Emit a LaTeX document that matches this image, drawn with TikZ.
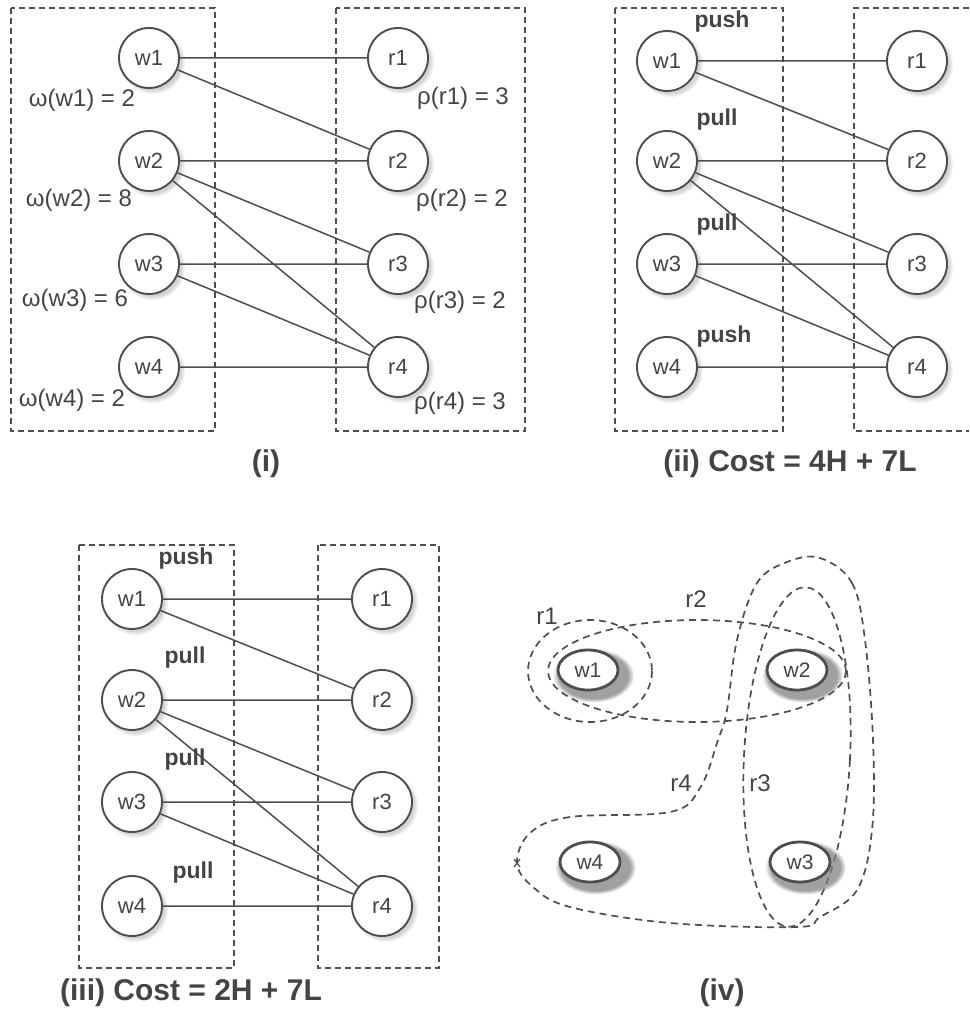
\documentclass[tikz,border=0pt]{standalone}
\usepackage{fontspec}
\setmainfont{Liberation Sans}
\usetikzlibrary{shapes.geometric, shadows, calc}
\definecolor{mydark}{RGB}{78,78,78}
\definecolor{mytext}{RGB}{68,68,68}
\tikzset{
  vnode/.style={circle, draw=mydark, fill=white, minimum size=60pt,
    inner sep=0pt, line width=1.9pt, text=mytext,
    font=\fontsize{22}{25}\selectfont,
    circular drop shadow={shadow xshift=3pt, shadow yshift=-3pt,
      shadow scale=1.1, opacity=0.35}},
  hnode/.style={ellipse, draw=mydark, fill=white, minimum width=60pt,
    minimum height=40pt, inner sep=0pt, line width=2.8pt, text=mytext,
    font=\fontsize{21}{24}\selectfont,
    circular drop shadow={shadow xshift=4pt, shadow yshift=-4pt,
      shadow scale=1.35, opacity=0.75}},
  link/.style={draw=mydark, line width=1.5pt},
  part/.style={draw=mydark, dash pattern=on 6pt off 4pt, line width=1.7pt},
  hedge/.style={draw=mydark, dash pattern=on 7pt off 5pt, line width=1.7pt},
  wlabel/.style={font=\fontsize{24}{28}\selectfont, text=mytext},
  mode/.style={font=\bfseries\fontsize{23}{27}\selectfont, text=mytext},
  caption/.style={font=\bfseries\fontsize{30}{34}\selectfont, text=mytext}
}

\begin{document}
\begin{tikzpicture}[x=1pt, y=-1pt]
  \useasboundingbox (0,0) rectangle (969,1019);
  % (i) weighted bipartite graph
  \draw[part] (11,8) rectangle (215,431);
  \draw[part] (336,8) rectangle (525,431);
  \node[vnode] (iw1) at (149,58) {w1};
  \node[vnode] (iw2) at (149,161) {w2};
  \node[vnode] (iw3) at (149,264) {w3};
  \node[vnode] (iw4) at (149,367) {w4};
  \node[vnode] (ir1) at (398,58) {r1};
  \node[vnode] (ir2) at (398,161) {r2};
  \node[vnode] (ir3) at (398,264) {r3};
  \node[vnode] (ir4) at (398,367) {r4};
  \draw[link] (iw1) -- (ir1) (iw1) -- (ir2) (iw2) -- (ir2) (iw2) -- (ir3)
              (iw2) -- (ir4) (iw3) -- (ir3) (iw3) -- (ir4) (iw4) -- (ir4);
  \node[wlabel] (iow1) at (82,100) {ω(w1) = 2};
  \node[wlabel] (iow2) at (79,200) {ω(w2) = 8};
  \node[wlabel] (iow3) at (75,300) {ω(w3) = 6};
  \node[wlabel] (iow4) at (72,400) {ω(w4) = 2};
  \node[wlabel] (irr1) at (463,98) {ρ(r1) = 3};
  \node[wlabel] (irr2) at (462,200) {ρ(r2) = 2};
  \node[wlabel] (irr3) at (460,302) {ρ(r3) = 2};
  \node[wlabel] (irr4) at (460,403) {ρ(r4) = 3};
  \node[caption] (capi) at (266,464) {(i)};

  % (ii) first assignment
  \draw[part] (615,8) rectangle (783,431);
  \draw[part] (969,8) -- (854,8) -- (854,431) -- (969,431);
  \node[vnode] (aw1) at (667,61) {w1};
  \node[vnode] (aw2) at (667,161) {w2};
  \node[vnode] (aw3) at (667,264) {w3};
  \node[vnode] (aw4) at (667,367) {w4};
  \node[vnode] (ar1) at (917,61) {r1};
  \node[vnode] (ar2) at (917,161) {r2};
  \node[vnode] (ar3) at (917,264) {r3};
  \node[vnode] (ar4) at (917,367) {r4};
  \draw[link] (aw1) -- (ar1) (aw1) -- (ar2) (aw2) -- (ar2) (aw2) -- (ar3)
              (aw2) -- (ar4) (aw3) -- (ar3) (aw3) -- (ar4) (aw4) -- (ar4);
  \node[mode] (am1) at (722,22) {push};
  \node[mode] (am2) at (717,120) {pull};
  \node[mode] (am3) at (717,225) {pull};
  \node[mode] (am4) at (724,337) {push};
  \node[caption] (capii) at (790,464) {(ii) Cost = 4H + 7L};

  % (iii) cheaper assignment
  \draw[part] (79,545) rectangle (234,968);
  \draw[part] (318,545) rectangle (439,968);
  \node[vnode] (bw1) at (132,599) {w1};
  \node[vnode] (bw2) at (132,700) {w2};
  \node[vnode] (bw3) at (132,802) {w3};
  \node[vnode] (bw4) at (132,906) {w4};
  \node[vnode] (br1) at (382,599) {r1};
  \node[vnode] (br2) at (382,700) {r2};
  \node[vnode] (br3) at (382,802) {r3};
  \node[vnode] (br4) at (382,906) {r4};
  \draw[link] (bw1) -- (br1) (bw1) -- (br2) (bw2) -- (br2) (bw2) -- (br3)
              (bw2) -- (br4) (bw3) -- (br3) (bw3) -- (br4) (bw4) -- (br4);
  \node[mode] (bm1) at (186,559) {push};
  \node[mode] (bm2) at (185,658) {pull};
  \node[mode] (bm3) at (185,760) {pull};
  \node[mode] (bm4) at (193,873) {pull};
  \node[caption] (capiii) at (191,993) {(iii) Cost = 2H + 7L};

  % (iv) hypergraph view
  \draw[hedge] (590,671) ellipse [x radius=62, y radius=51];
  \draw[hedge] (697,671) ellipse [x radius=149, y radius=51];
  \draw[hedge, rotate around={-3:(797,757)}] (797,757) ellipse [x radius=53, y radius=170];
  \draw[hedge] plot[smooth cycle, tension=0.6] coordinates {
    (820,558) (852,583) (865,640) (873,740) (872,830) (857,890) (820,917)
    (797,927) (670,923) (570,907) (533,887) (517,863) (530,833) (570,817)
    (670,812) (700,788) (718,740) (727,710) (737,640) (757,583) (787,562)};
  \draw[mydark, line width=1.2pt] (514,859) -- (520,867) (514,867) -- (520,859);
  \node[hnode] (hw1) at (588,670) {w1};
  \node[hnode] (hw2) at (797,670) {w2};
  \node[hnode] (hw4) at (590,862) {w4};
  \node[hnode] (hw3) at (800,862) {w3};
  \node[wlabel] (hr1) at (547,616) {r1};
  \node[wlabel] (hr2) at (696,599) {r2};
  \node[wlabel] (hr3) at (760,783) {r3};
  \node[wlabel] (hr4) at (681,783) {r4};
  \node[caption] (capiv) at (722,993) {(iv)};
\end{tikzpicture}
\end{document}
